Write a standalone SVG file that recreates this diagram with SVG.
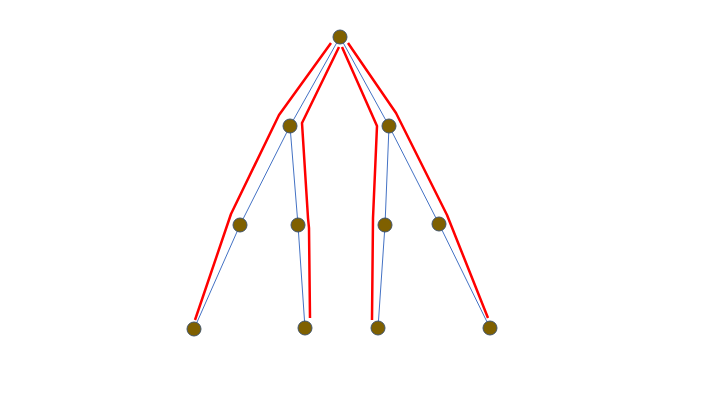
<svg xmlns="http://www.w3.org/2000/svg" width="720" height="405" viewBox="0 0 720 405">
<style>
.edge{fill:none;stroke:#4472c4;stroke-width:1}
.red{fill:none;stroke:#ff0000;stroke-width:2.5;stroke-linejoin:round}
.node{fill:#7f6000;stroke:#41546a;stroke-width:1}
</style>
<rect width="720" height="405" fill="#ffffff"/>
<g id="connectors">
<line class="edge" x1="340" y1="37" x2="290" y2="126"/>
<line class="edge" x1="340" y1="37" x2="389" y2="126"/>
<line class="edge" x1="290" y1="126" x2="240" y2="225"/>
<line class="edge" x1="240" y1="225" x2="194" y2="329"/>
<line class="edge" x1="290" y1="126" x2="298" y2="225"/>
<line class="edge" x1="298" y1="225" x2="305" y2="328"/>
<line class="edge" x1="389" y1="126" x2="385" y2="225"/>
<line class="edge" x1="385" y1="225" x2="378" y2="328"/>
<line class="edge" x1="389" y1="126" x2="439" y2="224"/>
<line class="edge" x1="439" y1="224" x2="490" y2="328"/>
<polyline class="red" points="331,43 279,115 231,214 195,320"/>
<polyline class="red" points="339,47 302,123 308,218 309,228 310,318"/>
<polyline class="red" points="342,47 377,126 373,218 372,320"/>
<polyline class="red" points="348,43 396,113 447,215 488,318"/>
</g>
<g id="n0"><circle class="node" cx="340" cy="37" r="7"/></g>
<g id="n1"><circle class="node" cx="290" cy="126" r="7"/></g>
<g id="n2"><circle class="node" cx="389" cy="126" r="7"/></g>
<g id="n3"><circle class="node" cx="240" cy="225" r="7"/></g>
<g id="n4"><circle class="node" cx="298" cy="225" r="7"/></g>
<g id="n5"><circle class="node" cx="385" cy="225" r="7"/></g>
<g id="n6"><circle class="node" cx="439" cy="224" r="7"/></g>
<g id="n7"><circle class="node" cx="194" cy="329" r="7"/></g>
<g id="n8"><circle class="node" cx="305" cy="328" r="7"/></g>
<g id="n9"><circle class="node" cx="378" cy="328" r="7"/></g>
<g id="n10"><circle class="node" cx="490" cy="328" r="7"/></g>
</svg>
